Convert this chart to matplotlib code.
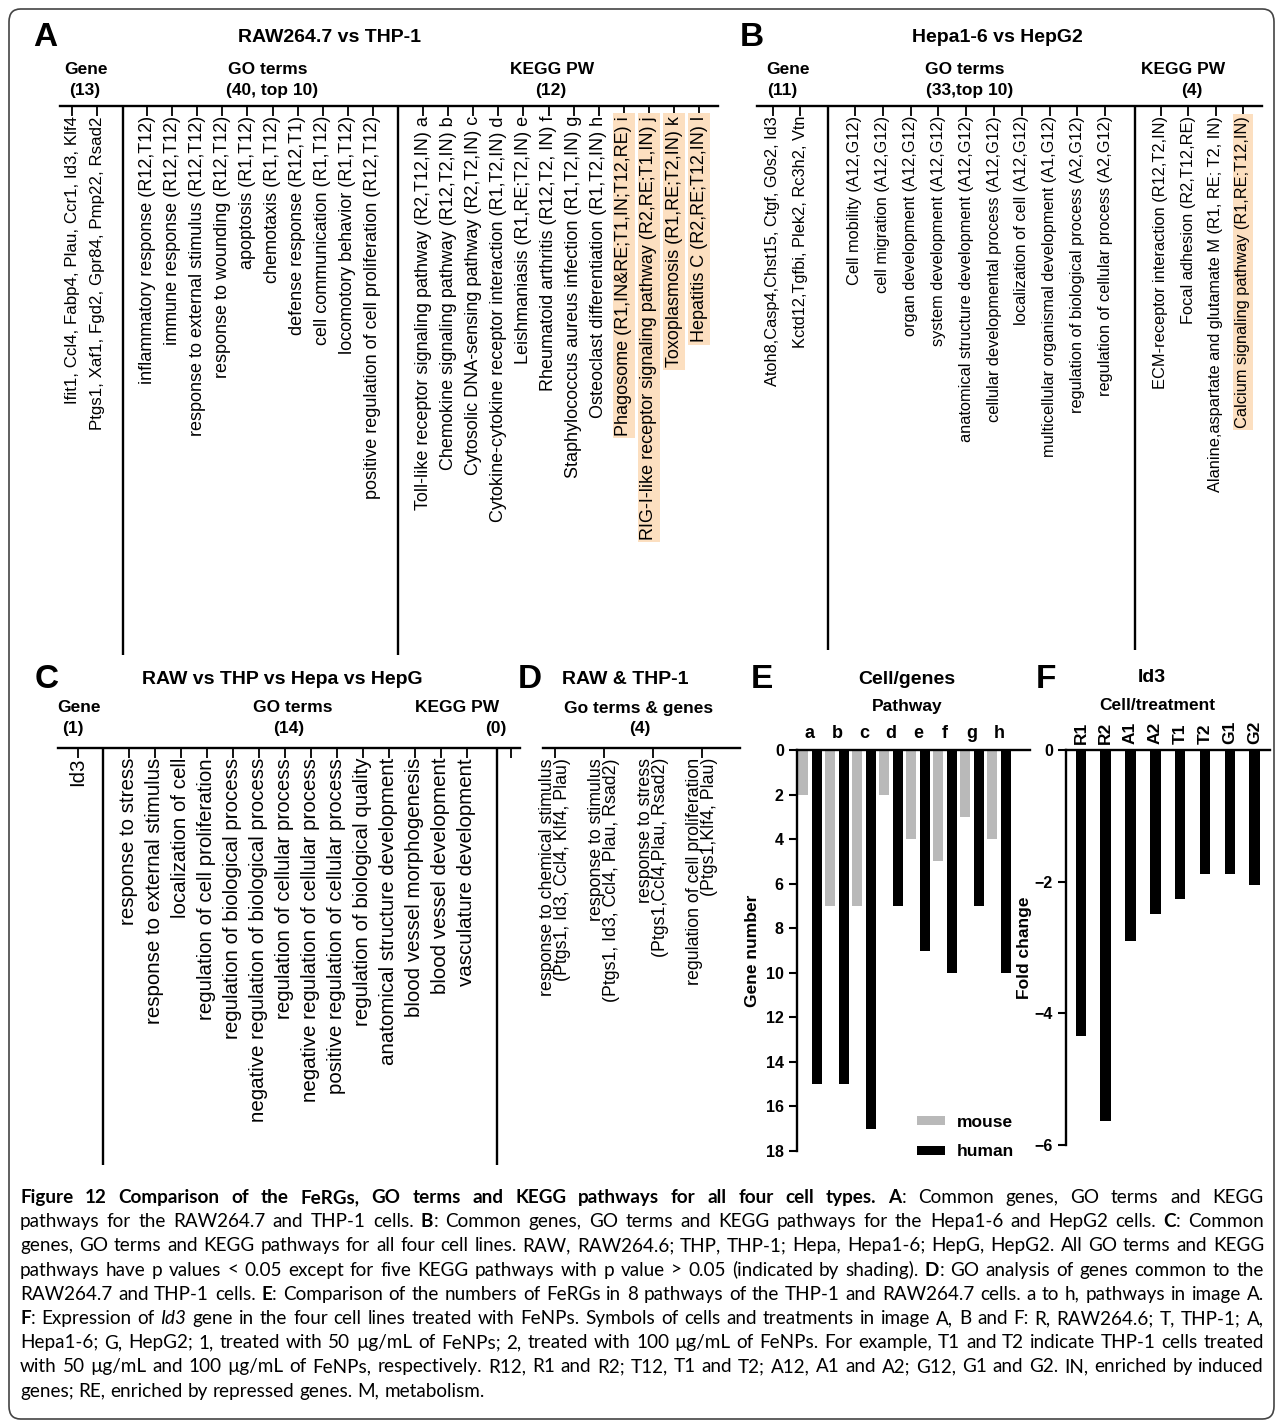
import numpy as np
import matplotlib
matplotlib.use("Agg")
import matplotlib.pyplot as plt
import matplotlib.transforms as mtransforms
from matplotlib.patches import FancyBboxPatch
from matplotlib import font_manager

# ---------------- data ----------------
a_genes = ["Ifit1, Ccl4, Fabp4, Plau, Ccr1, Id3, Klf4",
           "Ptgs1, Xaf1, Fgd2, Gpr84, Pmp22, Rsad2"]
a_go = ["inflammatory response (R12,T12)",
        "immune response (R12,T12)",
        "response to external stimulus (R12,T12)",
        "response to wounding (R12,T12)",
        "apoptosis (R1,T12)",
        "chemotaxis (R1,T12)",
        "defense response (R12,T1)",
        "cell communication (R1,T12)",
        "locomotory behavior (R1,T12)",
        "positive regulation of cell proliferation (R12,T12)"]
a_kegg = ["Toll-like receptor signaling pathway (R2,T12,IN)",
          "Chemokine signaling pathway (R12,T2,IN)",
          "Cytosolic DNA-sensing pathway (R2,T2,IN)",
          "Cytokine-cytokine receptor interaction (R1,T2,IN)",
          "Leishmaniasis (R1,RE;T2,IN)",
          "Rheumatoid arthritis (R12,T2, IN)",
          "Staphylococcus aureus infection (R1,T2,IN)",
          "Osteoclast differentiation (R1,T2,IN)",
          "Phagosome (R1,IN&RE;T1,IN;T12,RE)",
          "RIG-I-like receptor signaling pathway (R2,RE;T1,IN)",
          "Toxoplasmosis (R1,RE;T2,IN)",
          "Hepatitis C (R2,RE;T12,IN)"]
a_kegg_ids = list("abcdefghijkl")
a_kegg_p_high = ["i", "j", "k", "l"]          # p > 0.05, shaded

b_genes = ["Atoh8,Casp4,Chst15, Ctgf, G0s2, Id3",
           "Kctd12,Tgfbi, Plek2, Rc3h2, Vtn"]
b_go = ["Cell mobility (A12,G12)",
        "cell migration (A12,G12)",
        "organ development (A12,G12)",
        "system development (A12,G12)",
        "anatomical structure development (A12,G12)",
        "cellular developmental process (A12,G12)",
        "localization of cell (A12,G12)",
        "multicellular organismal development (A1,G12)",
        "regulation of biological process (A2,G12)",
        "regulation of cellular process (A2,G12)"]
b_kegg = ["ECM-receptor interaction (R12,T2,IN)",
          "Focal adhesion (R2,T12,RE)",
          "Alanine,aspartate and glutamate M (R1, RE; T2, IN)",
          "Calcium signaling pathway (R1,RE;T12,IN)"]
b_kegg_p_high = ["Calcium signaling pathway (R1,RE;T12,IN)"]

c_genes = ["Id3"]
c_go = ["response to stress",
        "response to external stimulus",
        "localization of cell",
        "regulation of cell proliferation",
        "regulation of biological process",
        "negative regulation of biological process",
        "regulation of cellular process",
        "negative regulation of cellular process",
        "positive regulation of cellular process",
        "regulation of biological quality",
        "anatomical structure development",
        "blood vessel morphogenesis",
        "blood vessel development",
        "vasculature development"]

d_terms = ["response to chemical stimulus\n(Ptgs1, Id3, Ccl4, Klf4, Plau)",
           "response to stimulus\n(Ptgs1, Id3, Ccl4, Plau, Rsad2)",
           "response to stress\n(Ptgs1,Ccl4,Plau, Rsad2)",
           "regulation of cell proliferation\n(Ptgs1,Klf4, Plau)"]

e_pathways = list("abcdefgh")
e_mouse = [2, 7, 7, 2, 4, 5, 3, 4]
e_human = [15, 15, 17, 7, 9, 10, 7, 10]

f_samples = ["R1", "R2", "A1", "A2", "T1", "T2", "G1", "G2"]
f_fold = [-4.35, -5.64, -2.9, -2.49, -2.26, -1.88, -1.89, -2.05]

caption = [
    [("Figure 12 Comparison of the FeRGs, GO terms and KEGG pathways for all four cell types. ", "b"),
     ("A", "b"), (": Common genes, GO terms and KEGG", "n")],
    [("pathways for the RAW264.7 and THP-1 cells. ", "n"), ("B", "b"),
     (": Common genes, GO terms and KEGG pathways for the Hepa1-6 and HepG2 cells. ", "n"),
     ("C", "b"), (": Common", "n")],
    [("genes, GO terms and KEGG pathways for all four cell lines. RAW, RAW264.6; THP, THP-1; "
      "Hepa, Hepa1-6; HepG, HepG2. All GO terms and KEGG", "n")],
    [("pathways have p values < 0.05 except for five KEGG pathways with p value > 0.05 "
      "(indicated by shading). ", "n"), ("D", "b"), (": GO analysis of genes common to the", "n")],
    [("RAW264.7 and THP-1 cells. ", "n"), ("E", "b"),
     (": Comparison of the numbers of FeRGs in 8 pathways of the THP-1 and RAW264.7 cells. "
      "a to h, pathways in image A.", "n")],
    [("F", "b"), (": Expression of ", "n"), ("Id3", "i"),
     (" gene in the four cell lines treated with FeNPs. Symbols of cells and treatments in "
      "image A, B and F: R, RAW264.6; T, THP-1; A,", "n")],
    [("Hepa1-6; G, HepG2; 1, treated with 50 \u00b5g/mL of FeNPs; 2, treated with 100 \u00b5g/mL "
      "of FeNPs. For example, T1 and T2 indicate THP-1 cells treated", "n")],
    [("with 50 \u00b5g/mL and 100 \u00b5g/mL of FeNPs, respectively. R12, R1 and R2; T12, T1 and T2; "
      "A12, A1 and A2; G12, G1 and G2. IN, enriched by induced", "n")],
    [("genes; RE, enriched by repressed genes. M, metabolism.", "n")],
]

# ---------------- figure ----------------
W, H = 1281, 1427
plt.rcParams["font.family"] = "Liberation Sans"
fig = plt.figure(figsize=(W / 100, H / 100), dpi=100)
SHADE = "#fcdfc0"
GREY = "#b9b9b9"


def fx(x):
    return x / W


def fy(y):
    return 1 - y / H


def px_axes(x0, y0, x1, y1):
    return fig.add_axes([fx(x0), fy(y1), (x1 - x0) / W, (y1 - y0) / H])


def label(x, y, s, size, **kw):
    kw.setdefault("weight", "bold")
    fig.text(fx(x), fy(y), s, fontsize=size, ha=kw.pop("ha", "center"), va="center", **kw)


def term_panel(x0, x1, y0, y1, groups, seps, shaded=(), empty=()):
    # groups: (first x, spacing, labels, font size)
    ax = px_axes(x0, y0, x1, y1)
    ax.set_xlim(x0, x1)
    ax.set_ylim(0, 1)
    ax.patch.set_visible(False)
    for s in ("left", "right", "bottom"):
        ax.spines[s].set_visible(False)
    ax.spines["top"].set_linewidth(1.7)
    xs, labs, sizes = [], [], []
    for start, step, names, size in groups:
        xs += list(start + step * np.arange(len(names)))
        labs += names
        sizes += [size] * len(names)
    ax.xaxis.set_ticks_position("top")
    ax.set_xticks(xs + list(empty))
    ax.tick_params(axis="x", direction="in", length=7, width=1.3, labeltop=False)
    ax.set_yticks([])
    for s in seps:
        ax.axvline(s, color="k", lw=1.7)
    below = mtransforms.offset_copy(ax.get_xaxis_transform(), fig=fig, y=-10, units="dots")
    for x, lab, size in zip(xs, labs, sizes):
        box = dict(boxstyle="square,pad=0.15", fc=SHADE, ec="none") if lab in shaded else None
        ax.text(x, 1, lab, transform=below, rotation=90, ha="center", va="top",
                fontsize=size, multialignment="right", linespacing=0.9, bbox=box)
    return ax


# outer frame
frame = FancyBboxPatch((fx(9), fy(1419)), fx(1274) - fx(9), fy(9) - fy(1419),
                       boxstyle="round,pad=0,rounding_size=0.009", transform=fig.transFigure,
                       fill=False, ec="#444444", lw=1.2)
fig.patches.append(frame)

# ---- A ----
label(45, 38, "A", 24)
label(330, 38, "RAW264.7 vs THP-1", 14)
label(86, 70, "Gene", 12.5)
label(85, 90, "(13)", 12.5)
label(268, 70, "GO terms", 12.5)
label(272, 90, "(40, top 10)", 12.5)
label(552, 70, "KEGG PW", 12.5)
label(551, 90, "(12)", 12.5)
a_kegg_labels = [f"{n} {k}" for n, k in zip(a_kegg, a_kegg_ids)]
a_shaded = [l for l, k in zip(a_kegg_labels, a_kegg_ids) if k in a_kegg_p_high]
term_panel(60, 718, 106, 655,
           [(72, 25, a_genes, 12.2), (147, 25.1, a_go, 13), (423, 25.1, a_kegg_labels, 13)],
           [123, 398], shaded=a_shaded)

# ---- B ----
label(752, 38, "B", 24)
label(997, 38, "Hepa1-6 vs HepG2", 14)
label(788, 70, "Gene", 12.5)
label(782, 90, "(11)", 12.5)
label(965, 70, "GO terms", 12.5)
label(970, 90, "(33,top 10)", 12.5)
label(1183, 70, "KEGG PW", 12.5)
label(1192, 90, "(4)", 12.5)
term_panel(757, 1262, 106, 650,
           [(773, 27, b_genes, 11.8), (855, 27.8, b_go, 11.8), (1161, 27.3, b_kegg, 11.8)],
           [828, 1135], shaded=b_kegg_p_high)

# ---- C ----
label(47, 680, "C", 24)
label(282, 680, "RAW vs THP vs Hepa vs HepG", 14)
label(79, 708, "Gene", 12.5)
label(73, 729, "(1)", 12.5)
label(293, 708, "GO terms", 12.5)
label(289, 729, "(14)", 12.5)
label(457, 708, "KEGG PW", 12.5)
label(496, 729, "(0)", 12.5)
term_panel(58, 520, 748, 1165, [(78, 25, c_genes, 14.8), (129, 26, c_go, 14.8)],
           [103, 497], empty=[511])

# ---- D ----
label(530, 680, "D", 24)
label(625, 680, "RAW & THP-1", 14)
label(639, 708, "Go terms & genes", 12.5)
label(640, 729, "(4)", 12.5)
term_panel(543, 740, 748, 1100, [(555, 49, d_terms, 12.8)], [])

# ---- E ----
label(762, 680, "E", 24)
label(907, 680, "Cell/genes", 14)
label(907, 706, "Pathway", 12.5)
axE = px_axes(797, 750, 1030, 1151)
xe = np.arange(len(e_pathways))
axE.bar(xe - 0.26, e_mouse, width=0.36, color=GREY, label="mouse")
axE.bar(xe + 0.26, e_human, width=0.36, color="k", label="human")
axE.set_xlim(-0.48, 8.15)
axE.set_ylim(18, 0)
axE.set_yticks(np.arange(0, 19, 2))
axE.xaxis.set_ticks_position("top")
axE.set_xticks(xe, e_pathways)
axE.tick_params(axis="x", length=0, pad=6, labelsize=13)
axE.tick_params(axis="y", direction="out", length=6, width=1.5, labelsize=11.5)
axE.set_ylabel("Gene number", fontsize=12.5, weight="bold", labelpad=4)
axE.legend(frameon=False, loc="lower right", bbox_to_anchor=(1.0, -0.06),
           prop=dict(weight="bold", size=12.5), handlelength=1.6, handleheight=0.45,
           labelspacing=0.85, handletextpad=0.7)

# ---- F ----
label(1046, 680, "F", 24)
label(1152, 677, "Id3", 14)
label(1157, 706, "Cell/treatment", 12.5)
axF = px_axes(1066, 750, 1270, 1145)
xf = np.arange(len(f_samples))
axF.bar(xf, f_fold, width=0.42, color="k")
axF.set_xlim(-0.6, 7.62)
axF.set_ylim(-6, 0)
axF.set_yticks([0, -2, -4, -6])
axF.xaxis.set_ticks_position("top")
axF.set_xticks(xf, f_samples, rotation=90)
axF.tick_params(axis="x", length=0, pad=4, labelsize=12.5)
axF.tick_params(axis="y", direction="out", length=6, width=1.5, labelsize=11.5)
axF.set_ylabel("Fold change", fontsize=12.5, weight="bold", labelpad=2)

for ax in (axE, axF):
    ax.patch.set_visible(False)
    ax.spines["right"].set_visible(False)
    ax.spines["bottom"].set_visible(False)
    for s in ("top", "left"):
        ax.spines[s].set_linewidth(1.7)
    for t in ax.get_xticklabels() + ax.get_yticklabels():
        t.set_fontweight("bold")

# ---- caption (justified) ----
names = {f.name for f in font_manager.fontManager.ttflist}
cap_font = "Liberation Sans Narrow" if "Liberation Sans Narrow" in names else "Lato"
cap_size = 14.5 if cap_font == "Liberation Sans Narrow" else 13.6
styles = {"n": {}, "b": {"weight": "bold"}, "i": {"style": "italic"}}
renderer = fig.canvas.get_renderer()


def width_of(s, st, size):
    t = fig.text(0, 0, s, family=cap_font, fontsize=size, **styles[st])
    w = t.get_window_extent(renderer).width
    t.remove()
    return w


def split_words(segs):
    words = [[]]
    for txt, st in segs:
        for k, part in enumerate(txt.split(" ")):
            if k > 0:
                words.append([])
            if part:
                words[-1].append((part, st))
    return [w for w in words if w]


left, right = 20, 1264
space = width_of("a a", "n", cap_size) - width_of("aa", "n", cap_size)
widest = max(sum(width_of(p, st, cap_size) for w in split_words(l) for p, st in w)
             + space * (len(split_words(l)) - 1) for l in caption)
if widest > right - left:
    cap_size *= (right - left) / widest * 0.99
    space = width_of("a a", "n", cap_size) - width_of("aa", "n", cap_size)

for i, line in enumerate(caption):
    words = split_words(line)
    wsum = [sum(width_of(p, st, cap_size) for p, st in w) for w in words]
    last = i == len(caption) - 1
    gap = space if last else (right - left - sum(wsum)) / (len(words) - 1)
    x = left
    yb = 1203 + i * 24.2
    for w in words:
        for p, st in w:
            fig.text(fx(x), fy(yb), p, family=cap_font, fontsize=cap_size, va="baseline",
                     **styles[st])
            x += width_of(p, st, cap_size)
        x += gap

fig.savefig("out.png", dpi=100)
